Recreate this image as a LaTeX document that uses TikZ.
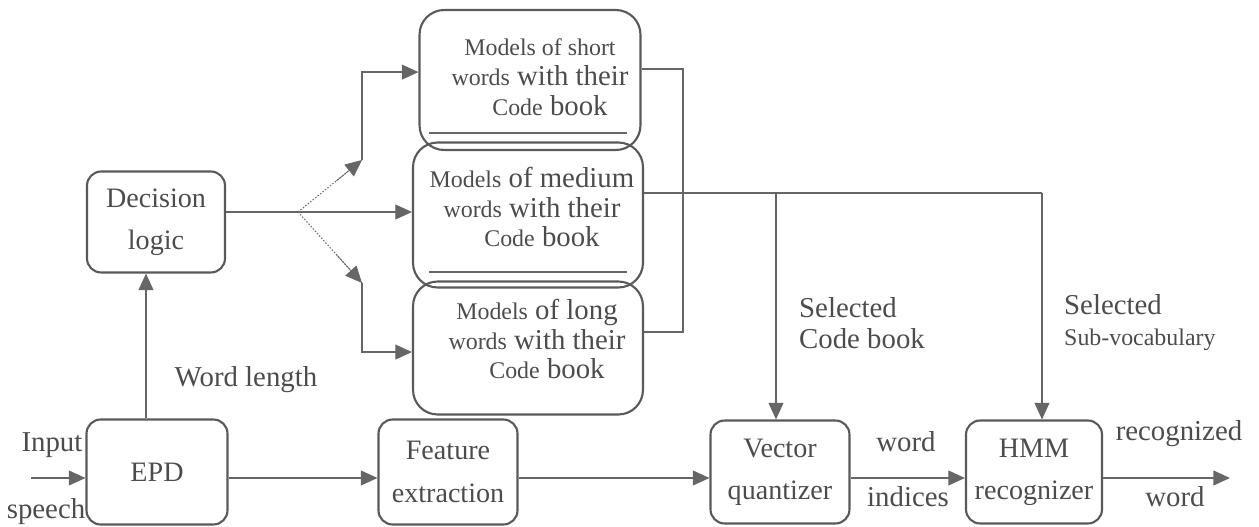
\documentclass[tikz,border=0pt]{standalone}
\usepackage{fontspec}
\setmainfont{Liberation Serif}
\newfontfamily\tms{Liberation Serif}
\usetikzlibrary{arrows.meta,calc}
\newcommand{\sm}[1]{{\fontsize{13.6}{17}\selectfont #1}}

\begin{document}
\begin{tikzpicture}[
  x=0.02cm, y=-0.02cm,
  every node/.style={text=black!70},
  blk/.style={draw=black!65, line width=1.2pt, rounded corners=8pt, align=center, font=\tms\fontsize{16}{24}\selectfont},
  models/.style={draw=black!65, line width=1.2pt, rounded corners=14pt},
  mtext/.style={align=center, font=\tms\fontsize{16.4}{17}\selectfont},
  lbl/.style={font=\tms\fontsize{16.4}{17.6}\selectfont},
  link/.style={draw=black!60, line width=0.8pt},
  arr/.style={link, -{Triangle[length=9.5pt,width=8.5pt]}}
  ]
\useasboundingbox (0,0) rectangle (1259,527);

\node[blk, minimum width=2.76cm, minimum height=2.02cm] (dec) at (156,222) {Decision\\logic};
\node[blk, minimum width=2.82cm, minimum height=2.1cm] (epd) at (157,472) {EPD};
\node[blk, minimum width=2.78cm, minimum height=2.1cm] (fe) at (448,472) {Feature\\extraction};
\node[blk, minimum width=2.78cm, minimum height=2.06cm] (vq) at (780,472) {Vector\\quantizer};
\node[blk, minimum width=2.72cm, minimum height=2.06cm] (hmm) at (1034,472) {HMM\\recognizer};

\node[models, minimum width=4.42cm, minimum height=2.8cm] (short) at (530,80) {};
\node[models, minimum width=4.6cm, minimum height=2.9cm] (med) at (528,215) {};
\node[models, minimum width=4.6cm, minimum height=2.66cm] (long) at (528,348) {};
\node[mtext] (shortt) at (540,77) {\sm{Models of short}\\\sm{words} with their\\\hspace{0.4cm}\sm{Code} book};
\node[mtext] (medt) at (532,207) {\sm{Models} of medium\\\sm{words} with their\\\hspace{0.4cm}\sm{Code} book};
\node[mtext] (longt) at (537,339) {\sm{Models} of long\\\sm{words} with their\\\hspace{0.4cm}\sm{Code} book};
\draw[link, line width=1pt] (429,133) -- (627,133);
\draw[link, line width=1pt] (429,272) -- (627,272);

\node[lbl] (inp) at (52,445) {Input};
\node[lbl] (sp) at (46,512) {speech};
\node[lbl] (wlen) at (246,380) {Word length};
\node[lbl, align=left, anchor=west] (selcb) at (793,323) {Selected\\Code book};
\node[lbl, align=left, anchor=west] (selsv) at (1058,323) {Selected\\\sm{Sub-vocabulary}};
\node[lbl] (wd1) at (906,442) {word};
\node[lbl] (ind) at (908,497) {indices};
\node[lbl] (rec) at (1179,434) {recognized};
\node[lbl] (wd2) at (1175,497) {word};

\coordinate (split) at (298,212);
\coordinate (up) at (362,160);
\coordinate (dn) at (362,283);
\coordinate (bt) at (683,69);
\coordinate (bb) at (683,332);
\coordinate (cb) at (776,193);
\coordinate (sv) at (1042,193);
\coordinate (wl) at (146,0);
\coordinate (row) at (0,478);
\coordinate (in) at (31,478);
\coordinate (out) at (1230,478);

\draw[link] (dec.east |- split) -- (split);
\draw[arr] (split) -- (split -| med.west);
\draw[link, densely dotted, line width=0.6pt] (split) -- (up);
\draw[link, densely dotted, line width=0.6pt] (split) -- (dn);
\draw[arr, line width=0.4pt] ($(split)!0.6!(up)$) -- (up);
\draw[arr, line width=0.4pt] ($(split)!0.6!(dn)$) -- (dn);
\draw[arr] (up) |- ([yshift=4.5pt]short.west);
\draw[arr] (dn) |- ([yshift=-2.3pt]long.west);
\draw[link] (short.east |- bt) -- (bt) -- (bb) -- (bb -| long.east);
\draw[link] (med.east |- sv) -- (sv);
\draw[arr] (cb) -- (cb |- vq.north);
\draw[arr] (sv) -- (sv |- hmm.north);
\draw[arr] (wl |- epd.north) -- (wl |- dec.south);
\draw[arr] (in) -- (epd.west |- in);
\draw[arr] (epd.east |- row) -- (fe.west |- row);
\draw[arr] (fe.east |- row) -- (vq.west |- row);
\draw[arr] (vq.east |- row) -- (hmm.west |- row);
\draw[arr] (hmm.east |- row) -- (out);

\end{tikzpicture}
\end{document}
